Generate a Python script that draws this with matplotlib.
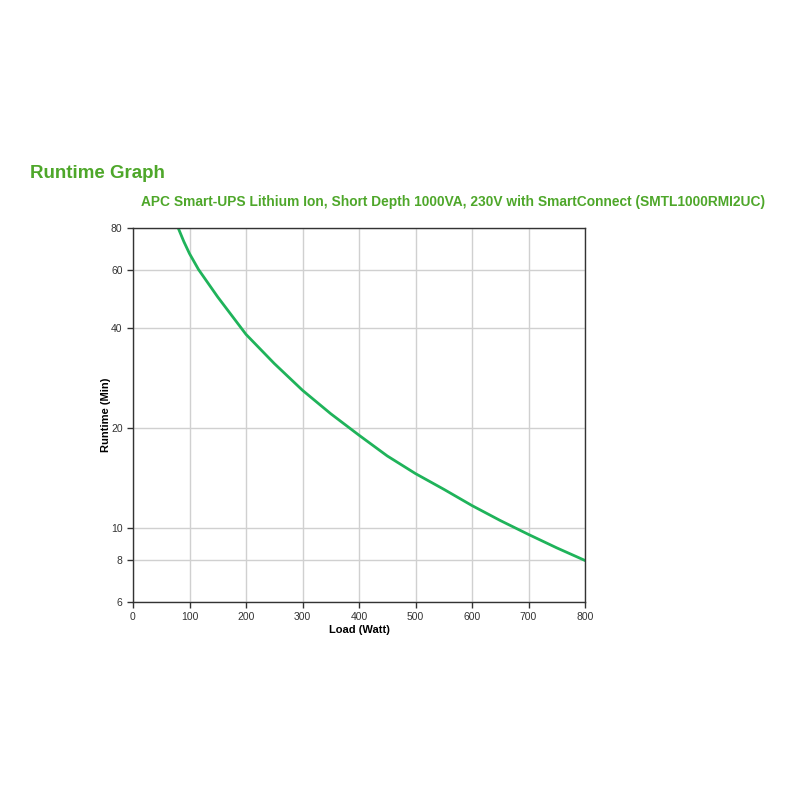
import matplotlib
matplotlib.use("Agg")
import matplotlib.pyplot as plt
from matplotlib.ticker import FixedLocator, NullLocator

# 읽어낸 값 (부하 W -> 런타임 분)
load = [80, 90, 100, 116, 150, 200, 250, 300, 350, 400, 450, 500, 550, 600, 650, 700, 750, 800]
runtime = [80, 72.8, 67, 60, 49.6, 38.3, 31.3, 26.0, 22.1, 19.05, 16.5, 14.6, 13.1, 11.7, 10.55, 9.58, 8.73, 8.0]

x_ticks = [0, 100, 200, 300, 400, 500, 600, 700, 800]
y_ticks = [6, 8, 10, 20, 40, 60, 80]

green_title = "#4ea72a"
line_green = "#1fb35a"

plt.rcParams['font.family'] = ['Liberation Sans', 'DejaVu Sans']

fig = plt.figure(figsize=(8, 8), dpi=100)
ax = fig.add_axes([0.16625, 0.2475, 0.565, 0.4675])

ax.plot(load, runtime, color=line_green, lw=2, solid_joinstyle='round')

ax.set_yscale('log')
ax.set_xlim(0, 800)
ax.set_ylim(6, 80)
ax.xaxis.set_major_locator(FixedLocator(x_ticks))
ax.yaxis.set_major_locator(FixedLocator(y_ticks))
ax.yaxis.set_minor_locator(NullLocator())
ax.set_yticklabels([str(v) for v in y_ticks])
ax.set_xticklabels([str(v) for v in x_ticks])
ax.grid(True, color="#d0d0d0", lw=1)
ax.set_axisbelow(True)

ax.tick_params(axis='both', labelsize=7.5, colors='#333333', length=4, width=1, direction='out')
for s in ax.spines.values():
    s.set_color('#333333')
    s.set_linewidth(1)

ax.set_xlabel("Load (Watt)", fontsize=8, fontweight='bold', labelpad=2)
ax.set_ylabel("Runtime (Min)", fontsize=8, fontweight='bold', labelpad=0)

fig.text(30/800, 1-173/800, "Runtime Graph", fontsize=13.5, fontweight='bold',
         color=green_title, ha='left', va='center')
fig.text(141/800, 1-202/800,
         "APC Smart-UPS Lithium Ion, Short Depth 1000VA, 230V with SmartConnect (SMTL1000RMI2UC)",
         fontsize=9.9, fontweight='bold', color=green_title, ha='left', va='center')

fig.savefig("out.png", dpi=100)
